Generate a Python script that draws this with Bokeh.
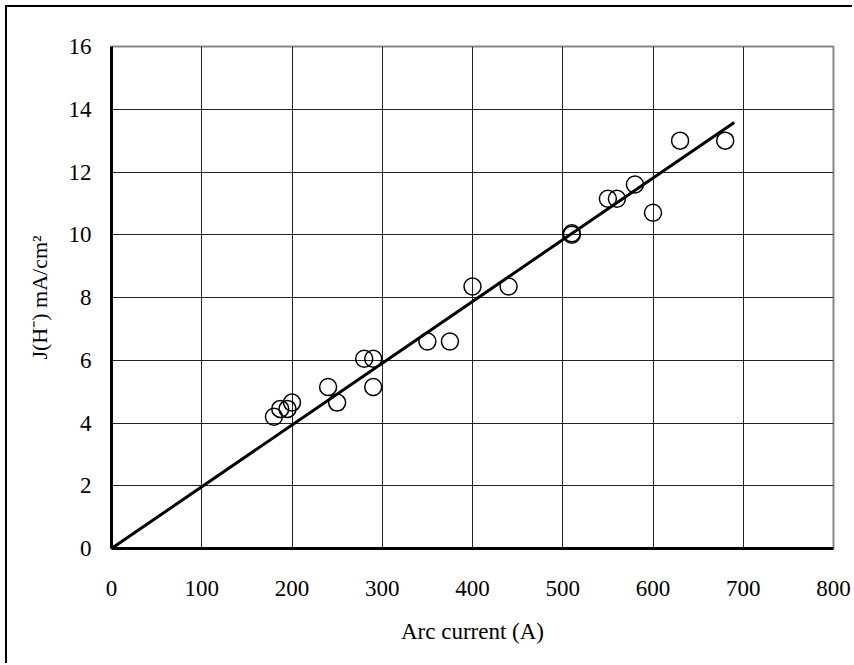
from bokeh.plotting import figure
from bokeh.models import Range1d, FixedTicker
from bokeh.embed import file_html
from bokeh.resources import INLINE

# data
arc_current = [180, 187, 195, 200, 240, 250, 280, 290, 290, 350, 375, 400, 440,
               510, 510, 550, 560, 580, 600, 630, 680]
current_density = [4.2, 4.45, 4.45, 4.65, 5.15, 4.65, 6.05, 6.05, 5.15, 6.6, 6.6,
                   8.35, 8.35, 10.0, 10.05, 11.15, 11.15, 11.6, 10.7, 13.0, 13.0]
fit_x = [0, 690]
fit_y = [0, 13.58]
x_ticks = [0, 100, 200, 300, 400, 500, 600, 700, 800]
y_ticks = [0, 2, 4, 6, 8, 10, 12, 14, 16]

FONT = "Liberation Serif"

p = figure(width=847, height=658, output_backend="svg", toolbar_location=None,
           x_range=Range1d(0, 800), y_range=Range1d(0, 16),
           min_border_left=104, min_border_right=21,
           min_border_top=39, min_border_bottom=117)

p.styles = {"border-left": "2px solid black", "border-top": "2px solid black",
            "margin-left": "5px", "margin-top": "5px"}

p.outline_line_color = "#888888"
p.outline_line_width = 2

for ax in (p.xaxis[0], p.yaxis[0]):
    ax.major_tick_line_color = None
    ax.minor_tick_line_color = None
    ax.axis_line_color = "black"
    ax.axis_line_width = 3
    ax.major_label_text_font = FONT
    ax.major_label_text_font_size = "23px"
    ax.major_label_text_color = "black"
    ax.axis_label_text_font = FONT
    ax.axis_label_text_font_style = "normal"
    ax.axis_label_text_color = "black"

p.xaxis.axis_label_text_font_size = "23px"
p.yaxis.axis_label_text_font_size = "22px"
p.xaxis.ticker = FixedTicker(ticks=x_ticks)
p.yaxis.ticker = FixedTicker(ticks=y_ticks)
p.xaxis.major_label_standoff = 26
p.yaxis.major_label_standoff = 14
p.xaxis.axis_label = "Arc current (A)"
p.yaxis.axis_label = "J(H\u207b) mA/cm\u00b2"
p.xaxis.axis_label_standoff = 20
p.yaxis.axis_label_standoff = 14

p.xgrid.ticker = FixedTicker(ticks=x_ticks)
p.ygrid.ticker = FixedTicker(ticks=y_ticks)
for g in (p.xgrid[0], p.ygrid[0]):
    g.grid_line_color = "#222222"
    g.grid_line_width = 1

p.line(fit_x, fit_y, line_color="black", line_width=3)
p.scatter(arc_current, current_density, marker="circle", size=17,
          fill_color=None, line_color="black", line_width=1.5)

open("out.html", "w").write(file_html(p, INLINE))
